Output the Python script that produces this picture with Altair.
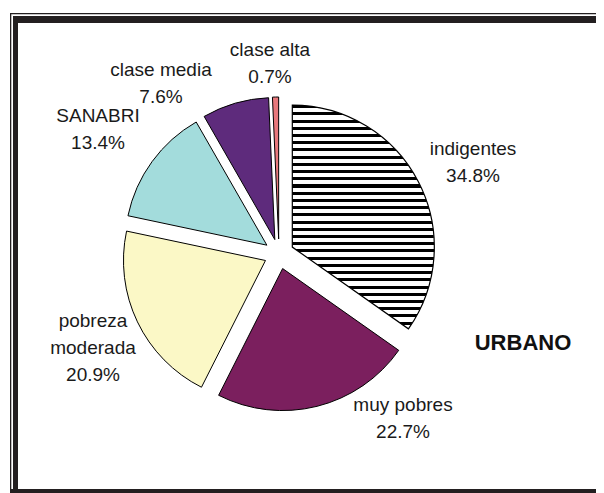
import altair as alt
import numpy as np
import pandas as pd

# ---------------- data ----------------
categories = ["indigentes", "muy pobres", "pobreza moderada", "SANABRI", "clase media", "clase alta"]
values = [34.8, 22.7, 20.9, 13.4, 7.6, 0.7]
colors = ["#ffffff", "#7b1f5e", "#fbf8c6", "#a3dcdc", "#5e2b7c", "#e8787c"]
chart_label = "URBANO"

# ---------------- layout ----------------
W, H = 588, 485
CX, CY = 271, 246          # pie centre (chart px)
RADIUS = 142
EXPLODE = 15
FONT = "Liberation Sans"
# first-line label anchors, as offsets from the pie centre
label_offsets = [(194, -105), (124, 151), (-186, 67), (-181, -138), (-118, -184), (-9, -204)]

vals = np.array(values)
total = vals.sum()
cum = np.cumsum(vals)
t0 = 2 * np.pi * (cum - vals) / total
t1 = 2 * np.pi * cum / total
mid = (t0 + t1) / 2

df = pd.DataFrame({
    "cat": categories,
    "value": values,
    "t0": t0,
    "t1": t1,
    "px": CX + EXPLODE * np.sin(mid),
    "py": CY - EXPLODE * np.cos(mid),
    "label": [c.replace("pobreza ", "pobreza\n") + "\n" + f"{v:.1f}%" for c, v in zip(categories, values)],
    "lx": [CX + dx for dx, dy in label_offsets],
    "ly": [CY + dy for dx, dy in label_offsets],
})

# horizontal stripe gradient for the "indigentes" slice
n_stripes = 31
black_frac = 0.42
stops = []
for k in range(n_stripes):
    a = k / n_stripes
    b = (k + black_frac) / n_stripes
    c = (k + 1) / n_stripes
    stops += [
        alt.GradientStop(color="#000000", offset=a),
        alt.GradientStop(color="#000000", offset=b),
        alt.GradientStop(color="#ffffff", offset=b),
        alt.GradientStop(color="#ffffff", offset=c),
    ]
stripes = alt.LinearGradient(gradient="linear", stops=stops, x1=0, x2=0, y1=0, y2=1)

base = alt.Chart(df)
enc = dict(
    theta=alt.Theta("t0:Q", scale=None),
    theta2="t1:Q",
    x=alt.X("px:Q", scale=None, axis=None),
    y=alt.Y("py:Q", scale=None, axis=None),
)

slices = base.transform_filter(alt.datum.cat != "indigentes").mark_arc(
    radius=RADIUS, stroke="#000000", strokeWidth=1
).encode(
    fill=alt.Fill("cat:N", scale=alt.Scale(domain=categories, range=colors), legend=None),
    **enc,
)

striped = base.transform_filter(alt.datum.cat == "indigentes").mark_arc(
    radius=RADIUS, stroke="#000000", strokeWidth=1.2, fill=stripes
).encode(**enc)

labels = base.mark_text(
    font=FONT, fontSize=19, color="#1a1a1a", lineBreak="\n", lineHeight=27,
    align="center", baseline="middle"
).encode(
    x=alt.X("lx:Q", scale=None, axis=None),
    y=alt.Y("ly:Q", scale=None, axis=None),
    text="label:N",
)

title_df = pd.DataFrame({"t": [chart_label]})
urbano = alt.Chart(title_df).mark_text(
    font=FONT, fontSize=22, fontWeight="bold", color="#111111", align="center", baseline="middle"
).encode(x=alt.value(515), y=alt.value(335), text="t:N")

frame_col = "#231f20"
def bar(x, x2, y, y2):
    return alt.Chart(title_df).mark_rect(color=frame_col).encode(
        x=alt.value(x), x2=alt.value(x2), y=alt.value(y), y2=alt.value(y2)
    )

frame = [
    bar(2, W, 5, 6.3),        # thin outer top
    bar(2, 3.3, 5, H),        # thin outer left
    bar(5, W, 8, 15),         # thick top
    bar(5, 10, 8, H),         # thick left
    bar(2, W, H - 4, H),      # bottom
]

chart = alt.layer(*frame, slices, striped, labels, urbano).properties(
    width=W, height=H, padding=0, autosize="none", background="#ffffff"
).configure_view(stroke=None)

chart.save("out.html", embed_options={"renderer": "svg", "actions": False})
